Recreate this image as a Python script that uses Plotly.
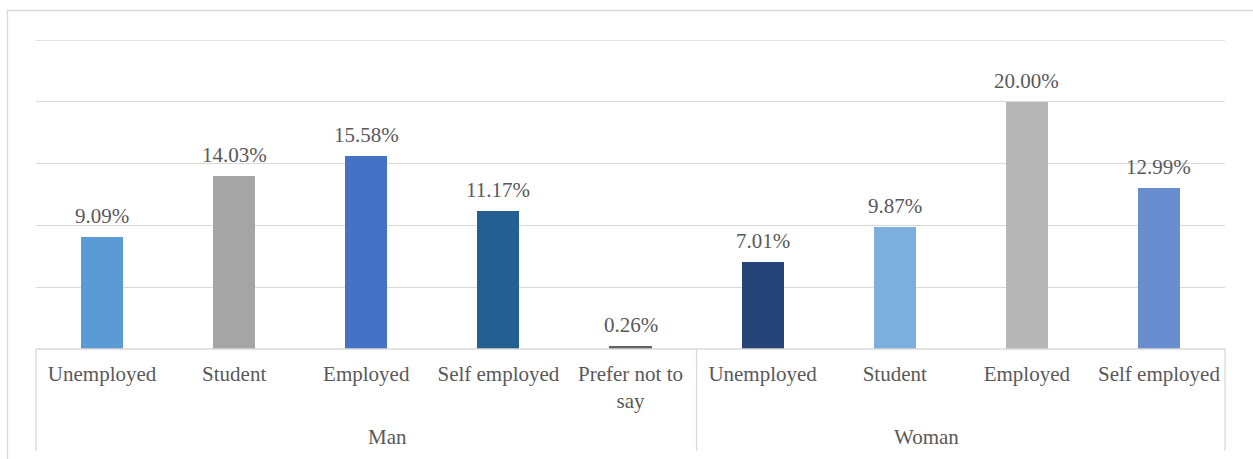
import plotly.graph_objects as go

categories = ["Unemployed", "Student", "Employed", "Self employed", "Prefer not to<br>say",
              "Unemployed", "Student", "Employed", "Self employed"]
groups = ["Man", "Woman"]
group_sizes = [5, 4]
values = [9.09, 14.03, 15.58, 11.17, 0.26, 7.01, 9.87, 20.00, 12.99]
colors = ["#5B9BD5", "#A5A5A5", "#4472C4", "#255E91", "#636363",
          "#264478", "#7CAFDD", "#B7B7B7", "#698ED0"]
y_ticks = [0, 5, 10, 15, 20, 25]

FONT = "'Liberation Serif', 'Times New Roman', serif"
TXT = "#595959"
GRID = "#D9D9D9"
FS = 21

n = len(categories)
xs = list(range(n))

fig = go.Figure()
fig.add_trace(go.Bar(x=xs, y=values, marker=dict(color=colors, line=dict(width=0)),
                     width=0.318, hoverinfo="skip"))

for x, v in zip(xs, values):
    fig.add_annotation(x=x, y=v, text=f"{v:.2f}%", showarrow=False, xref="x", yref="y",
                       yanchor="bottom", yshift=7, font=dict(family=FONT, size=FS, color=TXT))

shapes = []
# top gridline (at the upper end of the range)
shapes.append(dict(type="line", xref="paper", yref="y", x0=0, x1=1, y0=y_ticks[-1], y1=y_ticks[-1],
                   line=dict(color=GRID, width=1.3)))
start = 0
bounds = [0.0]
for g, s in zip(groups, group_sizes):
    center = (start + s / 2) / n
    fig.add_annotation(x=center, y=-0.285, xref="paper", yref="paper", text=g, showarrow=False,
                       yanchor="middle", font=dict(family=FONT, size=FS, color=TXT))
    start += s
    bounds.append(start / n)
for b in bounds:
    shapes.append(dict(type="line", xref="paper", yref="paper", x0=b, x1=b, y0=0, y1=-0.33,
                       line=dict(color=GRID, width=1.3)))
shapes.append(dict(type="line", xref="paper", yref="paper", x0=0, x1=1, y0=0, y1=0,
                   line=dict(color=GRID, width=1.3)))
shapes.append(dict(type="rect", xref="paper", yref="paper", x0=-0.0240, x1=1.05, y0=-0.5, y1=1.0955,
                   line=dict(color=GRID, width=1.3), fillcolor="rgba(0,0,0,0)"))
fig.update_layout(shapes=shapes)

fig.update_xaxes(range=[-0.5, n - 0.5], tickmode="array", tickvals=xs, ticktext=categories,
                 showgrid=False, zeroline=False, showline=False, ticks="", ticklabelstandoff=10,
                 tickfont=dict(family=FONT, size=FS, color=TXT), fixedrange=True)
fig.update_yaxes(range=[0, 25], tickmode="array", tickvals=y_ticks,
                 showgrid=True, gridcolor=GRID, gridwidth=1.3,
                 showticklabels=False, zeroline=False, showline=False, fixedrange=True)

fig.update_layout(width=1253, height=459, margin=dict(l=36, r=28, t=40, b=110),
                  paper_bgcolor="white", plot_bgcolor="white", showlegend=False,
                  bargap=0, font=dict(family=FONT, color=TXT))

fig.write_html("out.html", config={"displayModeBar": False})
